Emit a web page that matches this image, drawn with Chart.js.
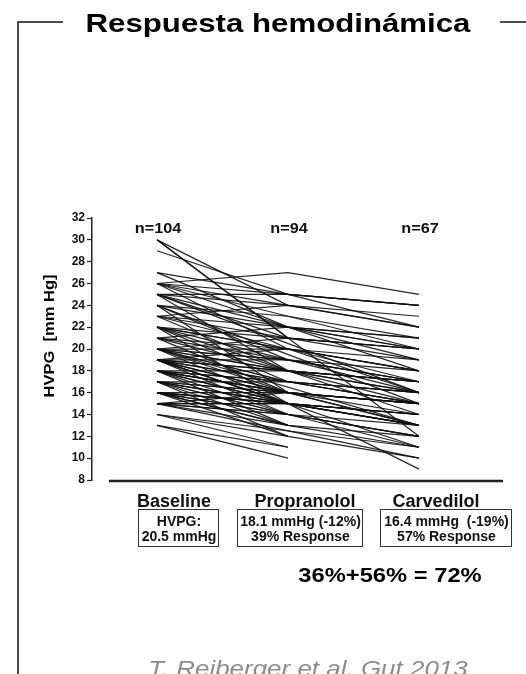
<!DOCTYPE html>
<html>
<head>
<meta charset="utf-8">
<script src="https://cdn.jsdelivr.net/npm/chart.js@4.4.1/dist/chart.umd.min.js"></script>
<style>
  html, body { margin: 0; padding: 0; background: #fff; }
  #wrap { width: 526px; height: 674px; }
</style>
</head>
<body>
<div id="wrap"><canvas id="hvpgChart" width="526" height="674"></canvas></div>
<script>
// Categories and labels
const categories = ['Baseline', 'Propranolol', 'Carvedilol'];
const groupSizes = ['n=104', 'n=94', 'n=67'];
const yTicks = [8, 10, 12, 14, 16, 18, 20, 22, 24, 26, 28, 30, 32];
const boxLines = [
    ['HVPG:', '20.5 mmHg'],
    ['18.1 mmHg (-12%)', '39% Response'],
    ['16.4 mmHg  (-19%)', '57% Response']
];
const summaryText = '36%+56% = 72%';
const citation = 'T. Reiberger et al. Gut 2013';

// HVPG per patient (mm Hg), one entry per patient, null = not measured
const baseline = [
    30, 30, 29, 27, 27, 26, 26, 26, 26, 26,
    25, 25, 25, 25, 25, 24, 24, 24, 24, 23,
    23, 23, 23, 23, 22, 22, 22, 22, 22, 22,
    21, 21, 21, 21, 21, 20, 20, 20, 20, 20,
    20, 20, 20, 20, 20, 19, 19, 19, 19, 19,
    19, 19, 19, 19, 19, 19, 18, 18, 18, 18,
    18, 18, 18, 18, 18, 18, 17, 17, 17, 17,
    17, 17, 17, 17, 17, 17, 16, 16, 16, 16,
    16, 16, 16, 16, 16, 15, 15, 15, 15, 15,
    14, 14, 15, 13, 13, 30, 26, 25, 24, 22,
    20, 19, 15, 14
];
const propranolol = [
    24, 21, 25, 25, 22, 27, 25, 23, 20, 24,
    25, 22, 21, 18, 24, 22, 19, 23, 16, 24,
    20, 21, 18, 22, 20, 19, 21, 17, 15, 20,
    19, 20, 16, 18, 22, 18, 19, 17, 16, 20,
    15, 18, 21, 17, 19, 17, 18, 16, 15, 20,
    17, 14, 18, 16, 19, 15, 16, 17, 15, 14,
    16, 18, 13, 15, 17, 16, 15, 16, 14, 15,
    13, 16, 15, 14, 17, 12, 15, 14, 15, 13,
    16, 14, 12, 15, 13, 14, 15, 13, 14, 16,
    12, 11, 15, 10, 11, null, null, null, null, null,
    null, null, null, null
];
const carvedilol = [
    null, 20, 22, 24, 19, 25, 24, 21, null, 23,
    24, 20, null, 17, 22, 21, null, 20, null, 22,
    18, 19, null, 20, 17, 18, 20, null, 13, 16,
    17, 18, null, 16, 21, 16, 17, null, 15, 19,
    null, 17, 20, 15, 16, 15, 17, null, 14, 18,
    16, null, 15, 13, 17, null, 15, 16, null, 13,
    14, 17, null, 14, 15, null, 13, 15, null, 14,
    12, 13, null, 12, 16, null, 13, 12, null, 11,
    15, null, 10, 14, null, 12, 13, null, 11, 15,
    null, null, 9, null, null, 12, 18, 16, 15, 14,
    13, 11, 10, 11
];

// One line per patient
const datasets = baseline.map(function(b, i) {
    return {
        data: [
            { x: 0, y: b },
            { x: 1, y: propranolol[i] },
            { x: 2, y: carvedilol[i] }
        ],
        borderColor: 'rgba(15, 15, 15, 0.9)',
        borderWidth: 1.25,
        pointRadius: 0,
        spanGaps: true,
        tension: 0
    };
});

function stretchedText(ctx, text, x, y, font, sx, align) {
    ctx.save();
    ctx.translate(x, y);
    ctx.scale(sx, 1);
    ctx.font = font;
    ctx.textAlign = align || 'center';
    ctx.textBaseline = 'alphabetic';
    ctx.fillText(text, 0, 0);
    ctx.restore();
}

// Everything around the plot: frame, title, axis title, counts, boxes
const decorPlugin = {
    id: 'decor',
    beforeDraw(chart) {
        const ctx = chart.ctx;
        ctx.save();
        ctx.fillStyle = '#fff';
        ctx.fillRect(0, 0, chart.width, chart.height);
        ctx.restore();
    },
    afterDraw(chart) {
        const ctx = chart.ctx;
        const xs = chart.scales.x;
        const area = chart.chartArea;
        ctx.save();

        // frame
        ctx.strokeStyle = '#111';
        ctx.lineWidth = 1.5;
        ctx.beginPath();
        ctx.moveTo(63, 22);
        ctx.lineTo(18, 22);
        ctx.lineTo(18, 674);
        ctx.moveTo(500, 22);
        ctx.lineTo(526, 22);
        ctx.stroke();

        // title
        ctx.fillStyle = '#000';
        stretchedText(ctx, 'Respuesta hemodinámica', 278, 32, 'bold 26px "Liberation Sans", Arial, sans-serif', 1.2);

        // y axis title
        ctx.save();
        ctx.translate(54, 336);
        ctx.rotate(-Math.PI / 2);
        stretchedText(ctx, 'HVPG  [mm Hg]', 0, 0, 'bold 14px "Liberation Sans", Arial, sans-serif', 1.18);
        ctx.restore();

        // group sizes
        ctx.fillStyle = '#111';
        groupSizes.forEach(function(t, i) {
            stretchedText(ctx, t, xs.getPixelForValue(i) + 1, 233, 'bold 14px "Liberation Sans", Arial, sans-serif', 1.16);
        });

        // x axis line
        ctx.strokeStyle = '#222';
        ctx.lineWidth = 2.5;
        ctx.beginPath();
        ctx.moveTo(109, area.bottom + 1);
        ctx.lineTo(503, area.bottom + 1);
        ctx.stroke();

        // result boxes
        const boxes = [[138, 80], [237, 125], [380, 131]];
        ctx.lineWidth = 1;
        ctx.strokeStyle = '#333';
        boxes.forEach(function(bx, i) {
            ctx.strokeRect(bx[0] + 0.5, 509.5, bx[1], 37);
            const cx = bx[0] + bx[1] / 2;
            ctx.fillStyle = '#111';
            stretchedText(ctx, boxLines[i][0], cx + 1, 526, 'bold 14px "Liberation Sans", Arial, sans-serif', 1);
            stretchedText(ctx, boxLines[i][1], cx + 1, 541, 'bold 14px "Liberation Sans", Arial, sans-serif', 1);
        });

        // summary
        ctx.fillStyle = '#000';
        stretchedText(ctx, summaryText, 390, 582, 'bold 21px "Liberation Sans", Arial, sans-serif', 1.13);

        // citation
        ctx.fillStyle = '#8c8c8c';
        stretchedText(ctx, citation, 308, 676, 'italic 22px "Liberation Sans", Arial, sans-serif', 1.18);

        ctx.restore();
    }
};

new Chart(document.getElementById('hvpgChart'), {
    type: 'line',
    data: { datasets: datasets },
    plugins: [decorPlugin],
    options: {
        responsive: false,
        animation: false,
        devicePixelRatio: 1,
        layout: { padding: { left: 52, right: 23, top: 218, bottom: 154 } },
        plugins: {
            legend: { display: false },
            tooltip: { enabled: false },
            title: { display: false }
        },
        scales: {
            x: {
                type: 'linear',
                min: -0.496,
                max: 2.641,
                afterBuildTicks: function(scale) {
                    scale.ticks = categories.map(function(c, i) { return { value: i }; });
                },
                afterFit: function(scale) { scale.height = 40; },
                grid: { display: false },
                border: { display: false },
                ticks: {
                    callback: function(v) { return categories[v]; },
                    labelOffset: 17,
                    padding: 3,
                    maxRotation: 0,
                    autoSkip: false,
                    color: '#111',
                    font: { family: '"Liberation Sans", Arial, sans-serif', size: 18, weight: 'bold' }
                }
            },
            y: {
                min: 8,
                max: 32,
                afterBuildTicks: function(scale) {
                    scale.ticks = yTicks.map(function(v) { return { value: v }; });
                },
                afterFit: function(scale) { scale.width = 40; },
                grid: {
                    drawOnChartArea: false,
                    tickLength: 5,
                    tickWidth: 1.2,
                    color: '#222'
                },
                border: { display: true, color: '#222', width: 1.5 },
                ticks: {
                    padding: 2,
                    color: '#111',
                    font: { family: '"Liberation Sans", Arial, sans-serif', size: 12, weight: 'bold' }
                }
            }
        }
    }
});
</script>
</body>
</html>
